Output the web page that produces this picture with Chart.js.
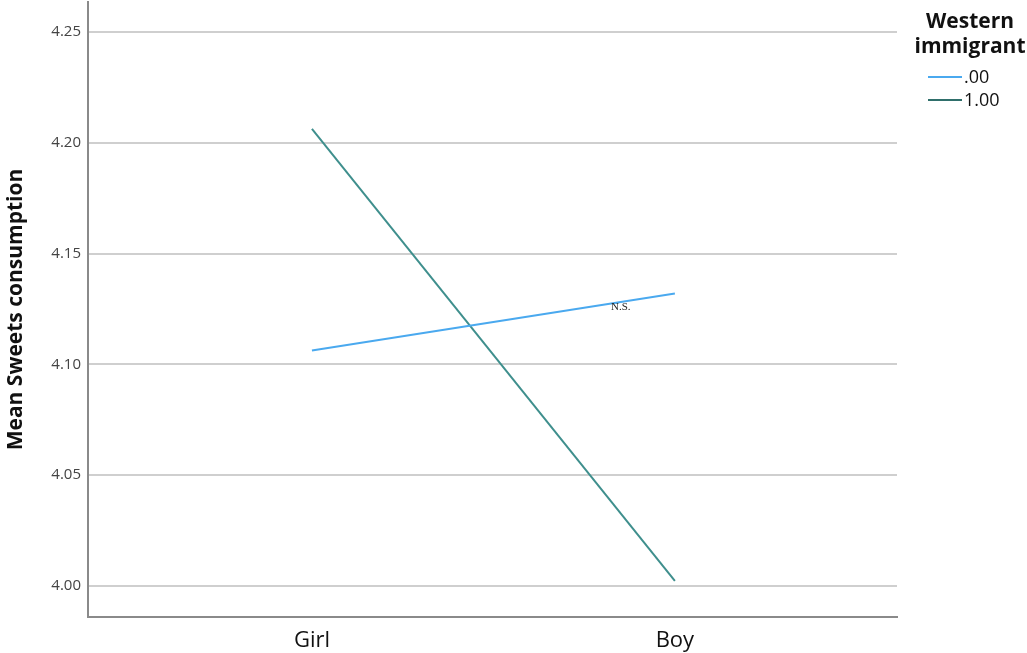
<!DOCTYPE html>
<html>
<head>
<meta charset="utf-8">
<script src="https://cdn.jsdelivr.net/npm/chart.js@4"></script>
<style>
  html, body { margin: 0; padding: 0; background: #fff; }
  #wrap { position: relative; width: 1027px; height: 653px; }
  #legend { position: absolute; left: 904px; top: 8px; width: 140px; font-family: "Open Sans", "Noto Sans", sans-serif; color: #111; }
  #legend .ttl { font-weight: bold; font-size: 21px; line-height: 25px; text-align: center; width: 132px; }
  #legend .row { position: relative; height: 23px; font-size: 18px; }
  #legend .row i { position: absolute; left: 24px; top: 12px; width: 34px; height: 2px; }
  #legend .row span { position: absolute; left: 60px; top: 0; line-height: 24px; }
</style>
</head>
<body>
<div id="wrap">
  <canvas id="c" width="1027" height="653"></canvas>
  <div id="legend">
    <div class="ttl">Western<br>immigrant</div>
    <div style="height:6px"></div>
    <div class="row"><i style="background:#4aa9ef"></i><span>.00</span></div>
    <div class="row"><i style="background:#2f6f6b"></i><span>1.00</span></div>
  </div>
</div>
<script>
// categories on the x axis (placed at 0 and 1)
const categories = ["Girl", "Boy"];
// mean sweets consumption per group
const nonWestern = [4.1063, 4.1320];   // Western immigrant = .00
const western    = [4.2063, 4.0023];   // Western immigrant = 1.00
const yTicks = [4.00, 4.05, 4.10, 4.15, 4.20, 4.25];

const pts = vals => vals.map((v, i) => ({ x: i, y: v }));

// small "N.S." note drawn in data space
const nsNote = {
  id: "nsNote",
  afterDatasetsDraw(chart) {
    const { ctx, scales: { x, y } } = chart;
    ctx.save();
    ctx.font = "11px 'Liberation Serif', 'DejaVu Serif', serif";
    ctx.fillStyle = "#222";
    ctx.textAlign = "center";
    ctx.textBaseline = "middle";
    ctx.fillText("N.S.", x.getPixelForValue(0.851), y.getPixelForValue(4.1257));
    ctx.restore();
  }
};

new Chart(document.getElementById("c"), {
  type: "line",
  data: {
    datasets: [
      { label: ".00", data: pts(nonWestern), borderColor: "#4aa9ef", borderWidth: 2,
        pointRadius: 0, tension: 0, fill: false },
      { label: "1.00", data: pts(western), borderColor: "#3f8f8d", borderWidth: 2,
        pointRadius: 0, tension: 0, fill: false },
    ]
  },
  options: {
    responsive: false, animation: false,
    layout: { padding: { top: 2, right: 130, left: 3, bottom: 0 } },
    plugins: { legend: { display: false }, tooltip: { enabled: false } },
    scales: {
      x: {
        type: "linear", min: -0.617, max: 1.612,
        afterBuildTicks(s) { s.ticks = categories.map((_, i) => ({ value: i })); },
        afterFit(s) { s.height = 36; s.paddingLeft = 0; s.paddingRight = 0; },
        ticks: { callback: v => categories[v], font: { family: "'Open Sans', sans-serif", size: 22 },
                 color: "#111", padding: 11, maxRotation: 0 },
        grid: { display: false, drawTicks: false },
        border: { display: true, color: "#8a8a8a", width: 2 },
      },
      y: {
        min: 3.986, max: 4.2635,
        afterBuildTicks(s) { s.ticks = yTicks.map(v => ({ value: v })); },
        afterFit(s) { s.width = 85; s.paddingTop = 0; s.paddingBottom = 0; },
        ticks: { callback: v => v.toFixed(2), font: { family: "'Open Sans', sans-serif", size: 15 },
                 color: "#444", padding: 7 },
        grid: { color: "#cfcfcf", lineWidth: 2, drawTicks: false },
        border: { display: true, color: "#8a8a8a", width: 2 },
        title: { display: true, text: "Mean Sweets consumption", color: "#111",
                 font: { family: "'Open Sans', sans-serif", size: 21, weight: "bold" }, padding: 0 },
      }
    }
  },
  plugins: [nsNote]
});
</script>
</body>
</html>
